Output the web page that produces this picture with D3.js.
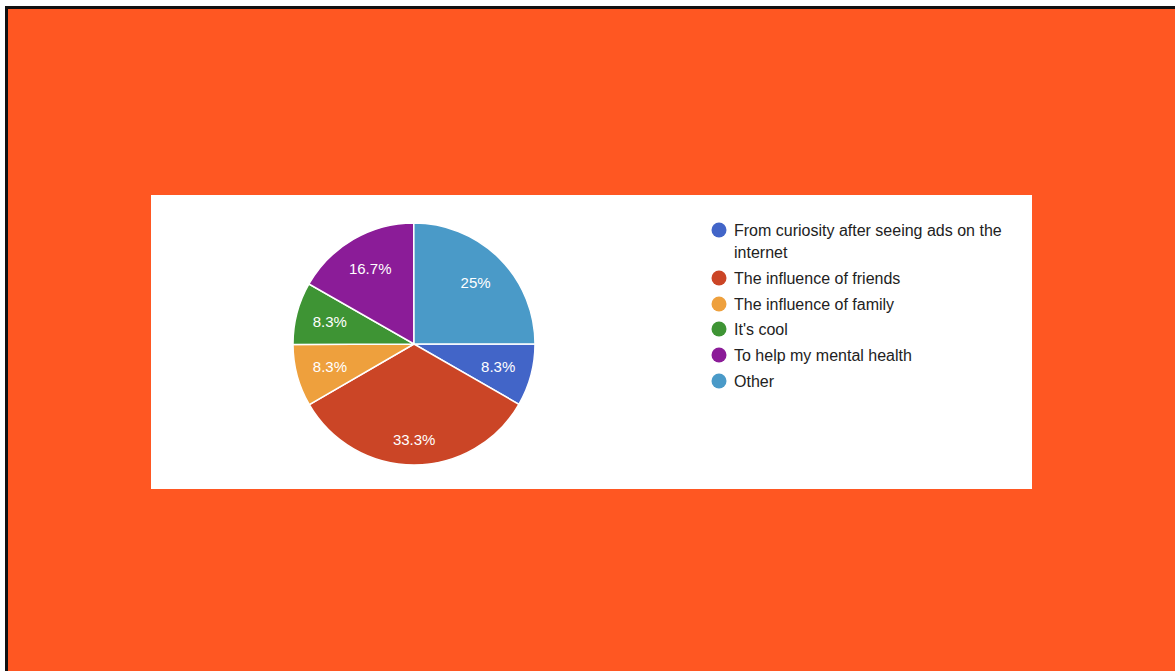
<!DOCTYPE html>
<html>
<head>
<meta charset="utf-8">
<script src="https://cdn.jsdelivr.net/npm/d3@7"></script>
<style>
  html, body { margin: 0; padding: 0; background: #fff; }
  svg { display: block; font-family: "Liberation Sans", Arial, sans-serif; }
</style>
</head>
<body>
<script>
// answers, in the order they appear (clockwise from 3 o'clock)
var categories = [
  "From curiosity after seeing ads on the internet",
  "The influence of friends",
  "The influence of family",
  "It's cool",
  "To help my mental health",
  "Other"
];
var legendLines = [
  ["From curiosity after seeing ads on the", "internet"],
  ["The influence of friends"],
  ["The influence of family"],
  ["It's cool"],
  ["To help my mental health"],
  ["Other"]
];
var percents = [8.3, 33.3, 8.3, 8.3, 16.7, 25];
var sliceLabels = ["8.3%", "33.3%", "8.3%", "8.3%", "16.7%", "25%"];
var colors = ["#4265c8", "#cb4526", "#eea03d", "#3e9434", "#8b1c98", "#4a9ac8"];

var W = 1175, H = 671;

var svg = d3.select("body")
    .append("svg")
    .attr("width", W)
    .attr("height", H);

// slide background + black edge on top and left
svg.append("rect").attr("x", 0).attr("y", 0).attr("width", W).attr("height", H).attr("fill", "#fff");
svg.append("rect").attr("x", 5).attr("y", 6).attr("width", W - 5).attr("height", H - 6).attr("fill", "#111");
svg.append("rect").attr("x", 8).attr("y", 9).attr("width", W - 8).attr("height", H - 9).attr("fill", "#ff5722");

// white chart card
svg.append("rect")
    .attr("x", 151).attr("y", 195)
    .attr("width", 881).attr("height", 294)
    .attr("fill", "#fff");

var cx = 414, cy = 344, r = 121;

var pie = d3.pie()
    .sort(null)
    .startAngle(Math.PI / 2)
    .endAngle(Math.PI / 2 + 2 * Math.PI)
    .value(function(d) { return d; });

var arc = d3.arc().innerRadius(0).outerRadius(r);

// label distance from centre (google pushes the bottom label a bit further out)
function labelPos(d) {
  var k = Math.abs(Math.cos((d.startAngle + d.endAngle) / 2)) > 0.99 ? 0.79 : 0.72;
  return d3.arc().innerRadius(r * k).outerRadius(r * k).centroid(d);
}

var g = svg.append("g")
    .attr("transform", "translate(" + cx + "," + cy + ")");

var slices = pie(percents);

g.selectAll("path")
    .data(slices)
    .enter()
    .append("path")
    .attr("d", arc)
    .attr("fill", function(d, i) { return colors[i]; })
    .attr("stroke", "#fff")
    .attr("stroke-width", 1.5);

g.selectAll("text")
    .data(slices)
    .enter()
    .append("text")
    .attr("transform", function(d) { return "translate(" + labelPos(d) + ")"; })
    .attr("text-anchor", "middle")
    .attr("dy", "0.35em")
    .attr("fill", "#fff")
    .style("font-size", "15px")
    .text(function(d, i) { return sliceLabels[i]; });

// legend
var legendY = [230, 278, 304, 329, 355, 381];
var legend = svg.append("g").attr("class", "legend");

var items = legend.selectAll("g")
    .data(categories)
    .enter()
    .append("g")
    .attr("transform", function(d, i) { return "translate(719," + legendY[i] + ")"; });

items.append("circle")
    .attr("r", 7.5)
    .attr("fill", function(d, i) { return colors[i]; });

items.each(function(d, i) {
  var t = d3.select(this).append("text")
      .attr("x", 15)
      .attr("fill", "#222")
      .style("font-size", "16px");
  legendLines[i].forEach(function(line, k) {
    t.append("tspan")
        .attr("x", 15)
        .attr("y", k * 22)
        .attr("dy", "0.35em")
        .text(line);
  });
});
</script>
</body>
</html>
